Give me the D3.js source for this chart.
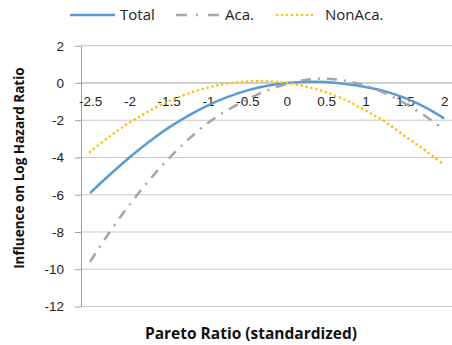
<!DOCTYPE html>
<html>
  <head>
    <meta charset="utf-8">
    <title>Pareto ratio influence</title>
    <script src="https://d3js.org/d3.v7.min.js" charset="utf-8"></script>
    <style>
      body { margin: 0; background: #fff; }
      svg { display: block; font-family: "Open Sans", "Noto Sans", sans-serif; }
      .grid line { stroke: #c8c8c8; stroke-width: 1; }
      .axis path, .axis line { stroke: #a0a0a0; }
      .axis text { fill: #222; font-size: 13.5px; }
    </style>
  </head>
  <body>
    <div id="box"></div>
    <script>
      // data
      var xVals  = [-2.5, -2.25, -2, -1.75, -1.5, -1.25, -1, -0.75, -0.5, -0.25, 0, 0.25, 0.5, 0.75, 1, 1.25, 1.5, 1.75, 2];
      var total  = [-5.91, -4.93, -4.0, -3.15, -2.4, -1.75, -1.2, -0.75, -0.4, -0.15, 0.0, 0.06, 0.05, -0.05, -0.22, -0.45, -0.8, -1.28, -1.9];
      var aca    = [-9.6, -8.0, -6.55, -5.23, -4.06, -3.03, -2.14, -1.45, -0.88, -0.4, -0.05, 0.17, 0.23, 0.12, -0.15, -0.55, -1.1, -1.75, -2.5];
      var nonAca = [-3.7, -2.86, -2.13, -1.51, -0.98, -0.56, -0.25, -0.03, 0.08, 0.09, 0.0, -0.2, -0.5, -0.92, -1.48, -2.08, -2.85, -3.6, -4.4];
      var xTicks = [-2.5, -2, -1.5, -1, -0.5, 0, 0.5, 1, 1.5, 2];
      var yTicks = [2, 0, -2, -4, -6, -8, -10, -12];

      var series = [
        { name: "Total",   values: total,  color: "#5b9bd5", dash: null,          cap: "butt" },
        { name: "Aca.",    values: aca,    color: "#a5a5a5", dash: "10 7 2 7",    cap: "butt" },
        { name: "NonAca.", values: nonAca, color: "#ffc000", dash: "0.1 4.9",     cap: "round" }
      ];

      var width = 452, height = 345;
      var plotL = 81, plotR = 452, plotT = 45.7, plotB = 306.5;

      var x = d3.scaleLinear().domain([-2.615, 2.1]).range([plotL, plotR]);
      var y = d3.scaleLinear().domain([-12, 2]).range([plotB, plotT]);

      var svg = d3.select("#box").append("svg")
        .attr("width", width)
        .attr("height", height);

      // horizontal gridlines
      svg.append("g").attr("class", "grid")
        .selectAll("line")
        .data(yTicks.filter(function(d) { return d !== 0; }))
        .enter().append("line")
          .attr("x1", plotL).attr("x2", plotR)
          .attr("y1", function(d) { return y(d); })
          .attr("y2", function(d) { return y(d); });

      // y axis
      svg.append("g").attr("class", "axis")
        .attr("transform", "translate(" + plotL + ",0)")
        .call(d3.axisLeft(y).tickValues(yTicks).tickSizeInner(6).tickSizeOuter(0).tickPadding(11)
          .tickFormat(function(d) { return String(d); }));

      // x axis sits on y = 0
      var xAxis = svg.append("g").attr("class", "axis")
        .attr("transform", "translate(0," + y(0) + ")")
        .call(d3.axisBottom(x).tickValues(xTicks).tickSize(0).tickPadding(13)
          .tickFormat(function(d) { return String(d); }));
      xAxis.select(".domain").attr("d", "M" + plotL + ",0H" + plotR);

      var line = d3.line()
        .x(function(d, i) { return x(xVals[i]); })
        .y(function(d) { return y(d); })
        .curve(d3.curveCatmullRom.alpha(0.5));

      svg.append("g").selectAll("path")
        .data(series)
        .enter().append("path")
          .attr("d", function(s) { return line(s.values); })
          .attr("fill", "none")
          .attr("stroke", function(s) { return s.color; })
          .attr("stroke-width", function(s) { return s.name === "NonAca." ? 2.6 : 2.5; })
          .attr("stroke-linecap", function(s) { return s.cap; })
          .attr("stroke-dasharray", function(s) { return s.dash; });

      // legend
      var legendPos = [70, 176, 277];
      var legendText = [120, 225, 325];
      var legend = svg.append("g").selectAll("g")
        .data(series)
        .enter().append("g");
      legend.append("line")
        .attr("x1", function(d, i) { return legendPos[i]; })
        .attr("x2", function(d, i) { return legendPos[i] + (i === 2 ? 38 : 45); })
        .attr("y1", 15).attr("y2", 15)
        .attr("stroke", function(s) { return s.color; })
        .attr("stroke-width", 2.5)
        .attr("stroke-linecap", function(s) { return s.cap; })
        .attr("stroke-dasharray", function(s, i) { return i === 1 ? "11 9 2 10" : s.dash; });
      legend.append("text")
        .attr("x", function(d, i) { return legendText[i]; })
        .attr("y", 20)
        .attr("font-size", "15px")
        .attr("fill", "#222")
        .text(function(s) { return s.name; });

      // axis titles
      svg.append("text")
        .attr("transform", "translate(24," + ((plotT + plotB) / 2 - 8) + ") rotate(-90)")
        .attr("text-anchor", "middle")
        .attr("font-size", "13.5px")
        .attr("font-weight", "bold")
        .attr("fill", "#111")
        .text("Influence on Log Hazard Ratio");

      svg.append("text")
        .attr("x", 251)
        .attr("y", 339)
        .attr("text-anchor", "middle")
        .attr("font-size", "15.5px")
        .attr("font-weight", "bold")
        .attr("fill", "#111")
        .text("Pareto Ratio (standardized)");
    </script>
  </body>
</html>
